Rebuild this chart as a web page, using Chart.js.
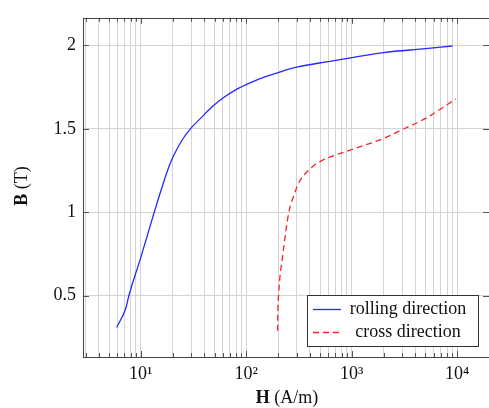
<!DOCTYPE html>
<html>
<head>
<meta charset="utf-8">
<script src="https://cdn.jsdelivr.net/npm/chart.js@4.4.1/dist/chart.umd.min.js"></script>
<style>
  html, body { margin: 0; padding: 0; background: #fff; overflow: hidden; }
  #chart { display: block; }
</style>
</head>
<body>
<canvas id="chart" width="495" height="408"></canvas>
<script>
// magnetisation curves, values
const rollingH = [5.9, 7.2, 7.7, 10, 13.4, 16.5, 19, 21, 25, 29.5, 37, 48, 62, 80, 110, 150, 200, 300, 600, 1000, 2000, 5000, 9000];
const rollingB = [0.31, 0.425, 0.5, 0.73, 1.0, 1.183, 1.293, 1.354, 1.439, 1.5, 1.564, 1.635, 1.69, 1.735, 1.777, 1.811, 1.837, 1.869, 1.903, 1.926, 1.957, 1.98, 1.996];

const crossH = [198, 199, 202, 222, 253, 276, 319, 412, 494, 948, 1960, 3030, 5050, 9700];
const crossB = [0.29, 0.4, 0.5, 0.746, 1.0, 1.083, 1.183, 1.266, 1.302, 1.371, 1.44, 1.496, 1.564, 1.679];

const seriesNames = ['rolling direction', 'cross direction'];
const xMajor = [10, 100, 1000, 10000];
const xTickLabels = ['10¹', '10²', '10³', '10⁴'];
const yTicks = [0.5, 1, 1.5, 2];
const yTickLabels = ['0.5', '1', '1.5', '2'];

const X_MIN = 2.83, X_MAX = 20000;
const FONT = '"Liberation Serif", "DejaVu Serif", serif';
const FS = 18;

// all 1..9 x 10^k inside the range, for the log grid
const xGrid = [];
for (let k = 0; k <= 4; k++) {
  for (let m = 1; m <= 9; m++) {
    const v = m * Math.pow(10, k);
    if (v >= X_MIN && v <= X_MAX) xGrid.push(v);
  }
}

const toPts = (xs, ys) => xs.map((x, i) => ({ x: x, y: ys[i] }));

const framePlugin = {
  id: 'frame',
  afterDraw(chart) {
    const ctx = chart.ctx;
    const a = chart.chartArea;
    const xs = chart.scales.x, ys = chart.scales.y;
    ctx.save();

    // inward ticks like pgfplots
    ctx.strokeStyle = '#555';
    ctx.lineWidth = 1;
    ctx.beginPath();
    xGrid.forEach(v => {
      const px = Math.round(xs.getPixelForValue(v)) + 0.5;
      const len = xMajor.includes(v) ? 6 : 4;
      ctx.moveTo(px, a.bottom); ctx.lineTo(px, a.bottom - len);
      ctx.moveTo(px, a.top); ctx.lineTo(px, a.top + len);
    });
    yTicks.forEach(v => {
      const py = Math.round(ys.getPixelForValue(v)) + 0.5;
      ctx.moveTo(a.left, py); ctx.lineTo(a.left + 6, py);
      ctx.moveTo(a.right, py); ctx.lineTo(a.right - 6, py);
    });
    ctx.stroke();

    ctx.strokeStyle = '#444';
    ctx.strokeRect(Math.round(a.left) + 0.5, Math.round(a.top) + 0.5,
      Math.round(a.right - a.left), Math.round(a.bottom - a.top));

    // legend box
    const lx = 307, ly = 295, lw = 171, lh = 51;
    ctx.fillStyle = '#fff';
    ctx.fillRect(lx, ly, lw, lh);
    ctx.strokeStyle = '#333';
    ctx.strokeRect(lx + 0.5, ly + 0.5, lw, lh);
    const rows = [
      { y: 309.5, color: 'rgb(40,40,255)', dash: [] },
      { y: 332.5, color: 'rgb(255,30,40)', dash: [6, 4] }
    ];
    ctx.font = FS + 'px ' + FONT;
    ctx.textBaseline = 'middle';
    ctx.textAlign = 'center';
    rows.forEach((r, i) => {
      ctx.strokeStyle = r.color;
      ctx.lineWidth = 1.3;
      ctx.setLineDash(r.dash);
      ctx.beginPath();
      ctx.moveTo(313, r.y); ctx.lineTo(341, r.y);
      ctx.stroke();
      ctx.setLineDash([]);
      ctx.fillStyle = '#111';
      ctx.fillText(seriesNames[i], 408, r.y);
    });

    // axis titles, bold symbol + normal unit
    ctx.fillStyle = '#111';
    ctx.textAlign = 'left';
    const drawTitle = (sym, unit, cx, cy) => {
      ctx.font = 'bold ' + FS + 'px ' + FONT;
      const w1 = ctx.measureText(sym).width;
      ctx.font = FS + 'px ' + FONT;
      const w2 = ctx.measureText(unit).width;
      const x0 = cx - (w1 + w2) / 2;
      ctx.font = 'bold ' + FS + 'px ' + FONT;
      ctx.fillText(sym, x0, cy);
      ctx.font = FS + 'px ' + FONT;
      ctx.fillText(unit, x0 + w1, cy);
    };
    drawTitle('H', ' (A/m)', 287, 398);
    ctx.translate(22, 186);
    ctx.rotate(-Math.PI / 2);
    drawTitle('B', ' (T)', 0, 0);
    ctx.restore();
  }
};

new Chart(document.getElementById('chart'), {
  type: 'line',
  data: {
    datasets: [{
      label: seriesNames[0],
      data: toPts(rollingH, rollingB),
      borderColor: 'rgb(40,40,255)',
      borderWidth: 1.3,
      pointRadius: 0,
      cubicInterpolationMode: 'monotone',
      fill: false
    }, {
      label: seriesNames[1],
      data: toPts(crossH, crossB),
      borderColor: 'rgb(255,30,40)',
      borderWidth: 1.3,
      borderDash: [6, 4],
      pointRadius: 0,
      cubicInterpolationMode: 'monotone',
      fill: false
    }]
  },
  options: {
    responsive: false,
    animation: false,
    events: [],
    layout: { padding: { left: 0, top: 15, right: 5, bottom: 0 } },
    plugins: { legend: { display: false }, tooltip: { enabled: false } },
    scales: {
      x: {
        type: 'logarithmic',
        min: X_MIN,
        max: X_MAX,
        afterBuildTicks: s => { s.ticks = xGrid.map(v => ({ value: v })); },
        afterFit: s => { s.height = 51; },
        grid: { color: '#d4d4d4', lineWidth: 1, drawTicks: false },
        border: { display: false },
        ticks: {
          autoSkip: false,
          maxRotation: 0,
          padding: 6,
          color: '#111',
          font: { family: FONT, size: FS },
          callback: v => {
            const i = xMajor.indexOf(v);
            return i >= 0 ? xTickLabels[i] : '';
          }
        }
      },
      y: {
        type: 'linear',
        min: 0.133,
        max: 2.165,
        afterBuildTicks: s => { s.ticks = yTicks.map(v => ({ value: v })); },
        afterFit: s => { s.width = 83; },
        grid: { color: '#d4d4d4', lineWidth: 1, drawTicks: false },
        border: { display: false },
        ticks: {
          padding: 7,
          color: '#111',
          font: { family: FONT, size: FS },
          callback: v => yTickLabels[yTicks.indexOf(v)]
        }
      }
    }
  },
  plugins: [framePlugin]
});
</script>
</body>
</html>
